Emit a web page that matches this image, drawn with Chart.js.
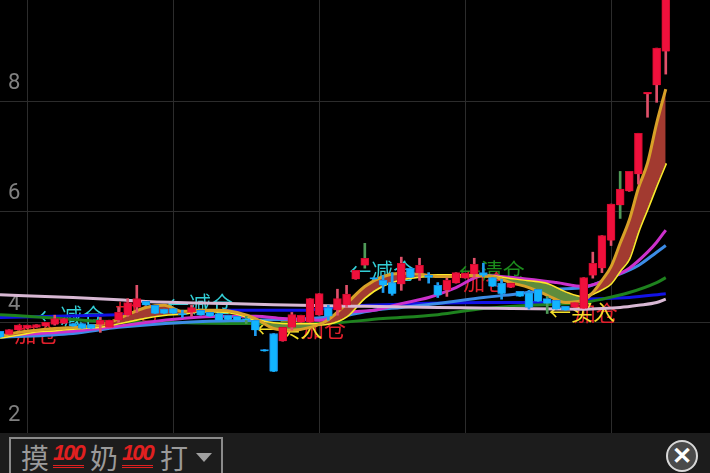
<!DOCTYPE html>
<html>
<head>
<meta charset="utf-8">
<script src="https://cdn.jsdelivr.net/npm/chart.js@4"></script>
<style>
  html, body { margin: 0; padding: 0; background: #000; width: 710px; height: 473px; overflow: hidden; }
  #wrap { position: absolute; left: 0; top: 0; width: 710px; height: 434px; }
  #bottomBar { position: absolute; left: 0; top: 433px; width: 710px; height: 40px; background: #1c1c1c; overflow: hidden; }
  #pick { position: absolute; left: 9px; top: 4px; width: 210px; height: 50px; border: 2px solid #8a8a8a; color: #9a9a9a;
          font: 28px "Noto Sans CJK SC", sans-serif; line-height: 38px; white-space: nowrap; }
  #pick span { position: absolute; top: -1px; }
  #pick .hundred { color: #e02020; font: italic bold 22px "Liberation Sans", sans-serif; line-height: 30px; letter-spacing: -2px;
                   border-bottom: 3px double #e02020; height: 27px; }
  #arrow { position: absolute; left: 185px; top: 14px; width: 0; height: 0; border-left: 8px solid transparent;
           border-right: 8px solid transparent; border-top: 9px solid #a0a0a0; }
  #closeBtn { position: absolute; left: 666px; top: 7px; width: 28px; height: 28px; border-radius: 50%; background: #4a4a4a;
              border: 2px solid #d8d8d8; color: #fff; font: bold 24px/28px "Liberation Sans", sans-serif; text-align: center; }
</style>
</head>
<body>
<div id="wrap"><canvas id="myChart" width="710" height="434"></canvas></div>
<div id="bottomBar">
  <div id="pick">
    <span style="left:10px">摸</span>
    <span class="hundred" style="left:42px">100</span>
    <span style="left:79px">奶</span>
    <span class="hundred" style="left:111px">100</span>
    <span style="left:149px">打</span>
    <div id="arrow"></div>
  </div>
  <div id="closeBtn">✕</div>
</div>

<script>
// candles, one per trading day
const candleOpen = [3.84,3.78,3.86,3.89,3.91,3.93,3.96,3.98,3.98,3.98,3.96,3.96,3.91,4.04,4.13,4.27,4.38,4.31,4.24,4.25,4.16,4.18,4.22,4.18,4.16,4.13,4.11,4.07,4.04,3.51,3.80,3.66,3.91,4.00,4.00,4.13,4.27,4.22,4.31,4.78,5.03,4.81,4.76,4.72,4.69,4.98,4.89,4.85,4.67,4.58,4.71,4.80,4.87,4.90,4.81,4.71,4.63,4.56,4.54,4.60,4.43,4.40,4.29,4.27,4.25,4.85,4.98,5.48,6.12,6.37,6.68,8.13,8.29,8.90];
const candleClose = [3.73,3.87,3.95,3.95,3.96,4.00,4.07,4.07,3.93,3.89,3.89,4.04,4.04,4.18,4.36,4.43,4.31,4.16,4.16,4.16,4.14,4.27,4.13,4.11,4.04,4.05,4.04,4.04,3.86,3.48,3.11,3.91,4.14,4.13,4.43,4.52,4.11,4.43,4.51,4.94,5.16,4.78,4.67,4.52,5.07,4.81,5.03,4.81,4.49,4.76,4.90,4.89,5.05,4.85,4.65,4.52,4.71,4.47,4.27,4.38,4.34,4.24,4.22,4.36,4.81,5.07,5.57,6.14,6.41,6.73,7.42,8.16,8.96,10.19];
const candleHigh = [3.84,3.87,3.95,3.95,3.96,4.00,4.13,4.07,3.98,3.98,3.96,4.09,4.04,4.27,4.43,4.67,4.38,4.31,4.24,4.25,4.22,4.31,4.22,4.18,4.16,4.13,4.11,4.11,4.04,3.51,3.80,3.91,4.18,4.13,4.43,4.52,4.31,4.60,4.67,4.94,5.43,4.81,4.85,4.90,5.18,4.98,5.16,4.90,4.72,4.80,4.90,4.89,5.16,5.07,4.81,4.78,4.71,4.56,4.58,4.60,4.47,4.40,4.29,4.36,4.81,5.27,5.57,6.14,6.73,6.73,7.42,8.16,8.96,10.19];
const candleLow = [3.73,3.78,3.86,3.89,3.91,3.93,3.95,3.98,3.93,3.89,3.89,3.82,3.91,4.00,4.11,4.18,4.31,4.16,4.16,4.16,4.09,4.11,4.13,4.11,4.04,4.05,4.04,3.98,3.76,3.48,3.11,3.66,3.86,4.00,4.00,4.13,4.04,4.13,4.27,4.78,4.98,4.78,4.54,4.49,4.58,4.81,4.76,4.71,4.45,4.47,4.71,4.80,4.80,4.83,4.65,4.42,4.63,4.47,4.24,4.38,4.16,4.24,4.22,4.27,4.25,4.80,4.90,5.39,5.88,6.37,6.50,7.71,7.98,8.49];
const greenWicks = [27, 40, 60, 68];

// the two fast averages share their knots so the band can be filled
const bandDays = [0,2,4,6,8,10,12,14,16,18,20,22,24,26,28,30,32,34,36,38,40,42,44,46,48,50,52,54,56,58,60,62,64,65,66,67,68,69,70,71,72,73];
const goldLine = [3.75,3.82,3.86,3.89,3.91,3.93,4.00,4.14,4.27,4.31,4.20,4.22,4.22,4.18,4.07,3.89,3.86,3.91,4.05,4.34,4.65,4.83,4.89,4.87,4.83,4.83,4.85,4.83,4.72,4.63,4.49,4.36,4.40,4.54,4.76,5.01,5.43,5.85,6.43,6.88,7.60,8.22];
const yellowLine = [3.73,3.78,3.84,3.86,3.89,3.91,3.95,4.02,4.09,4.14,4.16,4.20,4.20,4.16,4.05,3.98,3.96,3.96,3.98,4.11,4.45,4.67,4.78,4.83,4.85,4.85,4.85,4.83,4.78,4.74,4.69,4.54,4.45,4.52,4.60,4.71,4.94,5.16,5.65,6.06,6.48,6.88];

const magentaDays = [0,8,12,16,20,24,28,31,35,38,41,44,47,50,53,57,61,64,67,69,71,72,73];
const magentaLine = [3.76,3.84,3.91,4.00,4.07,4.11,4.11,4.07,4.04,4.18,4.22,4.34,4.45,4.63,4.85,4.80,4.72,4.65,4.81,4.98,5.27,5.45,5.67];
const blueDays = [0,8,13,20,28,34,38,41,44,48,53,57,61,64,67,70,72,73];
const blueLine = [3.73,3.80,3.91,4.00,4.04,4.07,4.13,4.22,4.27,4.34,4.45,4.52,4.60,4.63,4.81,5.03,5.27,5.39];
const greenDays = [0,5,11,18,26,35,42,48,53,58,64,66,69,72,73];
const greenLine = [4.14,4.09,4.02,4.00,3.98,3.98,4.07,4.14,4.25,4.31,4.36,4.42,4.54,4.72,4.81];
const navyDays = [0,11,18,25,33,38,46,53,59,64,69,73];
const navyLine = [4.09,4.13,4.16,4.22,4.22,4.29,4.34,4.36,4.36,4.42,4.45,4.52];
const lavenderDays = [0,8,13,16,25,30,36,40,48,56,64,66,68,70,72,73];
const lavenderLine = [4.50,4.45,4.41,4.38,4.34,4.32,4.30,4.29,4.27,4.25,4.24,4.25,4.27,4.31,4.36,4.42];

// signal labels, anchored on day and price
const signalText = ['←减仓','←减仓','←减仓','←清仓','加仓','加仓','加仓','加仓','加仓','←买入','←买入'];
const signalDay = [4.2,18.3,38.3,50.3,1.6,12.6,33.1,50.8,62.9,28.1,60.2];
const signalPrice = [4.13,4.34,4.94,4.94,3.80,4.20,3.89,4.74,4.18,3.89,4.20];
const signalColor = ['#33cfd6','#33cfd6','#33cfd6','#1c8a1c','#e0202c','#e0202c','#e0202c','#e0202c','#e0202c','#f5e02a','#f5e02a'];

const yTicks = [2, 4, 6, 8];
const xTicks = [3, 19, 35, 51, 67];

function pairs(days, values) {
  return days.map((d, i) => ({ x: d, y: values[i] }));
}

let bodies = [];
let wicks = [];
let bodyColors = [];
let bodyBorders = [];
let wickColors = [];
candleOpen.forEach((o, i) => {
  let up = candleClose[i] >= o;
  bodies.push({ x: i, y: [o, candleClose[i]] });
  wicks.push({ x: i, y: [candleLow[i], candleHigh[i]] });
  bodyColors.push(up ? '#f0103c' : '#12b4ff');
  bodyBorders.push(up ? '#d00a2c' : '#1c8ee8');
  if (greenWicks.includes(i)) {
    wickColors.push('#4f9a58');
  } else {
    wickColors.push(up ? '#e0506a' : '#1e9cf0');
  }
});

function lineSet(data, color, width, order, extra) {
  return Object.assign({
    type: 'line',
    data: data,
    borderColor: color,
    borderWidth: width,
    pointRadius: 0,
    cubicInterpolationMode: 'monotone',
    fill: false,
    order: order
  }, extra || {});
}

const signalPlugin = {
  id: 'signalPlugin',
  beforeDatasetsDraw(chart) {
    const ctx = chart.ctx;
    ctx.save();
    ctx.font = '22px "Noto Sans CJK SC"';
    ctx.textAlign = 'left';
    ctx.textBaseline = 'middle';
    signalText.forEach((t, i) => {
      ctx.fillStyle = signalColor[i];
      ctx.fillText(t, chart.scales.x.getPixelForValue(signalDay[i]), chart.scales.y.getPixelForValue(signalPrice[i]));
    });
    ctx.restore();
  }
};

// no room kept for tick labels, the plot runs to the canvas edge
function noAxisRoom(axis) {
  axis.paddingLeft = 0;
  axis.paddingRight = 0;
  axis.paddingTop = 0;
  axis.paddingBottom = 0;
  if (axis.isHorizontal()) {
    axis.height = 0;
  } else {
    axis.width = 0;
  }
}

new Chart(document.getElementById('myChart').getContext('2d'), {
  type: 'bar',
  data: {
    datasets: [
      { data: bodies, backgroundColor: bodyColors, borderColor: bodyBorders, borderWidth: 1, barThickness: 8, grouped: false, order: 1 },
      { data: wicks, backgroundColor: wickColors, borderWidth: 0, barThickness: 2, grouped: false, order: 2 },
      lineSet(pairs(lavenderDays, lavenderLine), '#d8b8d4', 3, 3),
      lineSet(pairs(bandDays, goldLine), '#d8a028', 3, 4, {
        fill: { target: '+1', above: '#a23a30', below: '#5f8c3c' }
      }),
      lineSet(pairs(bandDays, yellowLine), '#ffe92b', 3, 5),
      lineSet(pairs(magentaDays, magentaLine), '#cc30cc', 3, 6),
      lineSet(pairs(blueDays, blueLine), '#3c8ce6', 3, 7),
      lineSet(pairs(greenDays, greenLine), '#1e821e', 3, 8),
      lineSet(pairs(navyDays, navyLine), '#1212e6', 3, 9)
    ]
  },
  options: {
    responsive: false,
    animation: false,
    layout: { padding: { bottom: 1 } },
    plugins: { legend: { display: false }, tooltip: { enabled: false } },
    scales: {
      x: {
        type: 'linear',
        min: 0,
        max: 77.85,
        offset: false,
        afterBuildTicks: (axis) => { axis.ticks = xTicks.map((v) => ({ value: v })); },
        afterFit: noAxisRoom,
        grid: { color: '#2c2c2c', offset: false, drawTicks: false },
        border: { display: false },
        ticks: { display: false }
      },
      y: {
        min: 2,
        max: 9.83,
        afterBuildTicks: (axis) => { axis.ticks = yTicks.map((v) => ({ value: v })); },
        afterFit: noAxisRoom,
        grid: { color: '#2c2c2c', drawTicks: false },
        border: { display: false },
        ticks: {
          mirror: true,
          padding: 8,
          labelOffset: -18,
          color: '#808080',
          font: { size: 22, family: 'Roboto' }
        }
      }
    }
  },
  plugins: [signalPlugin]
});
</script>
</body>
</html>
